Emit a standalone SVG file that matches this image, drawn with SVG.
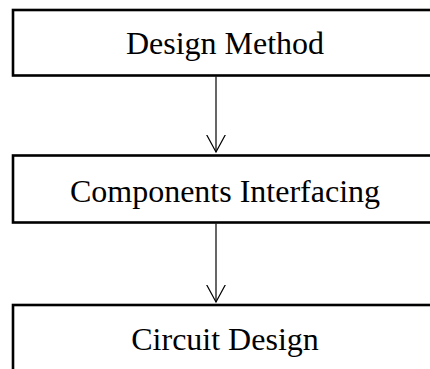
<svg xmlns="http://www.w3.org/2000/svg" width="430" height="369" viewBox="0 0 430 369">
  <style>
    .box { fill: #ffffff; stroke: #000000; stroke-width: 2.6; }
    .label { font-family: "Liberation Serif", "Times New Roman", serif; font-size: 32px; fill: #000000; text-anchor: middle; }
    .link { stroke: #000000; stroke-width: 1.2; fill: none; }
  </style>
  <defs>
    <!-- open V arrowhead, drawn along +x so orient="auto" points it down the line -->
    <marker id="openArrow" markerWidth="20" markerHeight="20" refX="17.5" refY="10" orient="auto" markerUnits="userSpaceOnUse" viewBox="0 0 20 20">
      <path d="M0,0.5 L17.5,10 L0,19.5" fill="none" stroke="#000" stroke-width="1.2"/>
    </marker>
  </defs>
  <rect width="430" height="369" fill="#ffffff"/>

  <g id="design-method">
    <rect class="box" x="13" y="10" width="440" height="65.5"/>
    <text class="label" x="225" y="53.5">Design Method</text>
  </g>

  <g id="components-interfacing">
    <rect class="box" x="13" y="155.5" width="440" height="67"/>
    <text class="label" x="225" y="201.5">Components Interfacing</text>
  </g>

  <g id="circuit-design">
    <rect class="box" x="13" y="305" width="440" height="100"/>
    <text class="label" x="225" y="350">Circuit Design</text>
  </g>

  <g id="connectors">
    <line class="link" x1="216" y1="76.5" x2="216" y2="152" marker-end="url(#openArrow)"/>
    <line class="link" x1="216" y1="223.5" x2="216" y2="302" marker-end="url(#openArrow)"/>
  </g>
</svg>
